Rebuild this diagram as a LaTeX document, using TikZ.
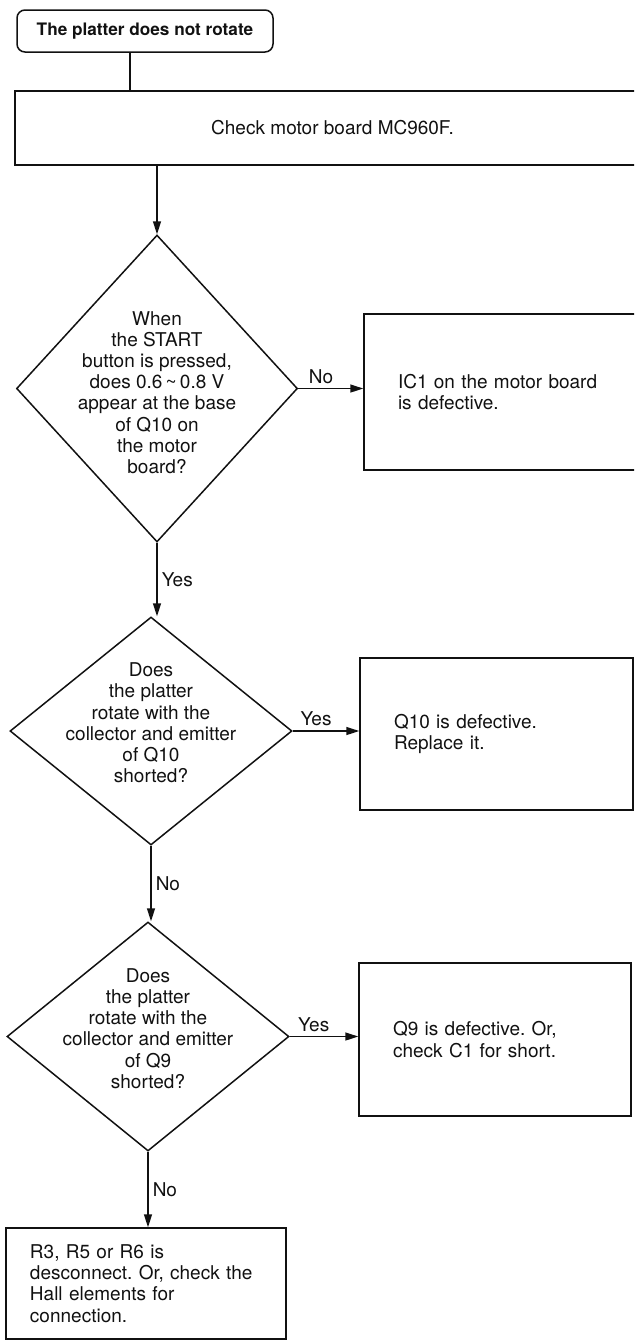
\documentclass[tikz,border=0pt]{standalone}
\usepackage{fontspec}
\setmainfont{TeX Gyre Heros}
\usepackage{tikz}
\usetikzlibrary{arrows.meta,shapes.geometric,positioning,calc}
\definecolor{fcInk}{HTML}{111111}
\frenchspacing

\begin{document}
\begin{tikzpicture}[
  x=0.5pt, y=-0.5pt,
  font=\fontsize{9.5}{10.6}\selectfont,
  base/.style  = {draw=fcInk, line width=0.75pt, inner sep=0pt, text=fcInk},
  term/.style  = {base, rounded corners=4pt, align=center,
                  font=\fontsize{8.6}{10}\selectfont\bfseries},
  pbox/.style  = {base, align=left, inner xsep=17pt},
  cbox/.style  = {base, align=center},
  dnode/.style = {base, shape=diamond},
  dtxt/.style  = {align=center, inner sep=0pt, text=fcInk},
  arr/.style   = {-{Triangle[length=6.5pt,width=4pt]}, line width=0.75pt,
                  draw=fcInk},
  line/.style  = {line width=0.75pt, draw=fcInk},
  elbl/.style  = {inner sep=2pt, text=fcInk},
]
\path[clip, use as bounding box] (0,0) rectangle (634,1341);

%── Start and first check ─────────────────────────────────────────────────────
\node[term, minimum width=128pt, minimum height=21pt] (start) at (145,31)
    {The platter does not rotate};
\node[cbox, minimum width=317.5pt, minimum height=37pt] (chk) at (332.5,128)
    {Check motor board MC960F.};

\draw[line]([xshift=-7.5pt]start.south) -- ([xshift=-7.5pt]start.south |- chk.north);

%── Decision 1: voltage at base of Q10 ────────────────────────────────────────
\node[dnode, minimum width=140.5pt, minimum height=153.5pt] (d1) at (157,388.5) {};
\node[dtxt] (d1t) at ($(d1)+(0,4)$)
    {When\\the START\\button is pressed,\\does 0.6\,{\char"007E}\,0.8 V\\appear at the base\\of Q10 on\\the motor\\board?};
\node[pbox, minimum width=148pt, minimum height=78pt, text width=114pt] (ic1)
    at (512,392) {IC1 on the motor board\\is defective.};

\draw[arr](chk.south -| d1.north) -- (d1.north);
\draw[arr](d1.east) -- (d1.east -| ic1.west) node[elbl, pos=0.35, above]{No};

%── Decision 2: Q10 shorted ───────────────────────────────────────────────────
\node[dnode, minimum width=141pt, minimum height=114pt] (d2) at (151,731) {};
\node[dtxt] (d2t) at ($(d2)+(0,-8)$)
    {Does\\the platter\\rotate with the\\collector and emitter\\of Q10\\shorted?};
\node[pbox, minimum width=136.5pt, minimum height=76pt, text width=102.5pt] (q10)
    at (496.5,734) {Q10 is defective.\\Replace it.};

\draw[arr](d1.south) -- (d1.south |- d2.north) node[elbl, midway, right]{Yes};
\draw[arr](d2.east) -- (d2.east -| q10.west) node[elbl, pos=0.35, above]{Yes};

%── Decision 3: Q9 shorted ────────────────────────────────────────────────────
\node[dnode, minimum width=141pt, minimum height=114.5pt] (d3) at (148,1036.5) {};
\node[dtxt] (d3t) at ($(d3)+(0,-8)$)
    {Does\\the platter\\rotate with the\\collector and emitter\\of Q9\\shorted?};
\node[pbox, minimum width=136pt, minimum height=76.5pt, text width=102pt] (q9)
    at (495,1039.5) {Q9 is defective. Or,\\check C1 for short.};

\draw[arr](d2.south) -- (d2.south |- d3.north) node[elbl, midway, right]{No};
\draw[arr](d3.east) -- (d3.east -| q9.west) node[elbl, pos=0.35, above]{Yes};

%── Last resort ───────────────────────────────────────────────────────────────
\node[pbox, inner xsep=12pt, minimum width=140pt, minimum height=55.5pt,
      text width=116pt] (fin) at (146,1283.5)
    {R3, R5 or R6 is\\desconnect. Or, check the\\Hall elements for\\connection.};

\draw[arr](d3.south) -- (d3.south |- fin.north) node[elbl, midway, right]{No};

\end{tikzpicture}
\end{document}
